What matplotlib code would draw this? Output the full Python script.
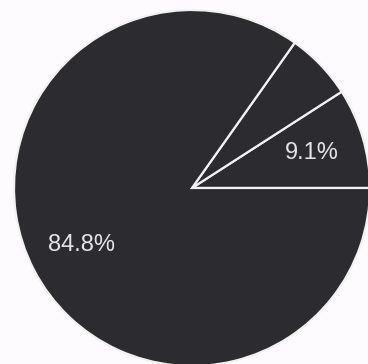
import matplotlib.pyplot as plt

# доли сектора, по часовой стрелке от горизонтали против часовой
labels = ['A', 'B', 'C']
shares = [9.1, 6.1, 84.8]

plt.rcParams['font.family'] = ['Liberation Sans', 'DejaVu Sans']

fig = plt.figure(figsize=(3.68, 3.64), dpi=100)
ax = fig.add_axes([0, 0, 1, 1])

def show_pct(p):
    # маленький сектор без подписи
    return '' if p < 7 else '%.1f%%' % p

wedges, texts, autotexts = ax.pie(
    shares, startangle=0, counterclock=True,
    colors=['#2c2b2f'] * 3,
    wedgeprops=dict(edgecolor='#f2f2f2', linewidth=1.6),
    autopct=show_pct, pctdistance=0.7,
    textprops=dict(color='#e4e4e4', fontsize=17))

# центр круга (192, 188) px, радиус 178 px
r = 178.0
ax.set_aspect('auto')
ax.set_xlim(-192 / r, (368 - 192) / r)
ax.set_ylim(-(364 - 188) / r, 188 / r)
ax.axis('off')

plt.savefig('out.png', dpi=100, facecolor='#fdfbfd')
